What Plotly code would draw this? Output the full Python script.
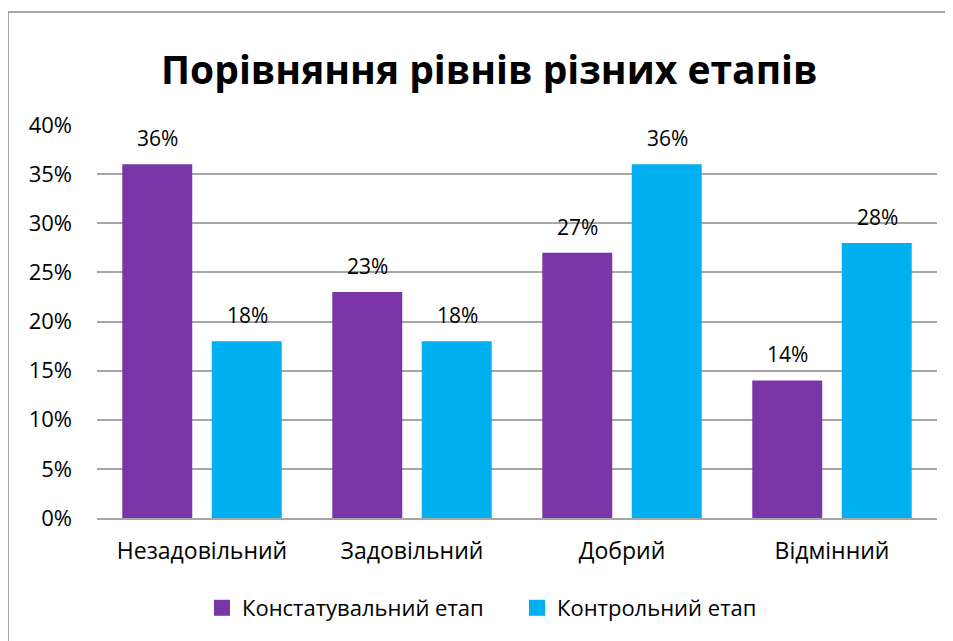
import plotly.graph_objects as go

categories = ["Незадовільний", "Задовільний", "Добрий", "Відмінний"]
series_names = ["Констатувальний етап", "Контрольний етап"]
konstat = [0.36, 0.23, 0.27, 0.14]
kontrol = [0.18, 0.18, 0.36, 0.28]
colors = ["#7A35A8", "#00B0F0"]

FONT = "Open Sans"

fig = go.Figure()
for name, vals, col in zip(series_names, [konstat, kontrol], colors):
    fig.add_trace(go.Bar(
        x=categories, y=vals, name=name, marker=dict(color=col, line=dict(width=0)),
        showlegend=False, legendgroup=name,
    ))
# legend entries with larger square swatches
for name, col in zip(series_names, colors):
    fig.add_trace(go.Scatter(
        x=[None], y=[None], mode="markers", name=name, legendgroup=name,
        marker=dict(symbol="square", size=16, color=col), showlegend=True,
    ))

# data labels above bars
for vals, shift in zip([konstat, kontrol], [-45, 45]):
    for c, v in zip(categories, vals):
        fig.add_annotation(x=c, y=v, text=f"{round(v*100)}%", showarrow=False,
                           xshift=shift, yshift=26, yanchor="middle",
                           font=dict(size=21, color="black", family=FONT))

fig.update_layout(
    width=953, height=641,
    margin=dict(l=89, r=24, t=117, b=131),
    paper_bgcolor="white", plot_bgcolor="white",
    barmode="group", bargap=0.148, bargroupgap=0.218,
    title=dict(text="<b>Порівняння рівнів різних етапів</b>", x=0.505, xref="container",
               xanchor="center", y=1 - 62/641, yref="container", yanchor="middle",
               font=dict(size=39, color="black", family=FONT)),
    font=dict(family=FONT, color="black", size=22),
    showlegend=True,
    legend=dict(orientation="h", x=0.5, xanchor="center", y=-0.229, yanchor="middle",
                font=dict(size=22, family=FONT), itemwidth=30, traceorder="normal",
                entrywidth=270, entrywidthmode="pixels"),
    yaxis=dict(range=[0, 0.4], dtick=0.05, tickformat=".0%", showgrid=True,
               gridcolor="#A6A6A6", gridwidth=1.5, zeroline=False, showline=False,
               ticks="", tickfont=dict(size=22), ticklabelstandoff=24),
    xaxis=dict(showline=True, linecolor="#A6A6A6", linewidth=1.5, ticks="",
               tickfont=dict(size=23), ticklabelstandoff=12),
    shapes=[dict(type="rect", xref="paper", yref="paper",
                 x0=-89/840, x1=1.2, y0=-1, y1=(510-4)/393,
                 line=dict(color="#8C8C8C", width=1.5), fillcolor="rgba(0,0,0,0)", layer="below")],
)
fig.write_html("out.html")
